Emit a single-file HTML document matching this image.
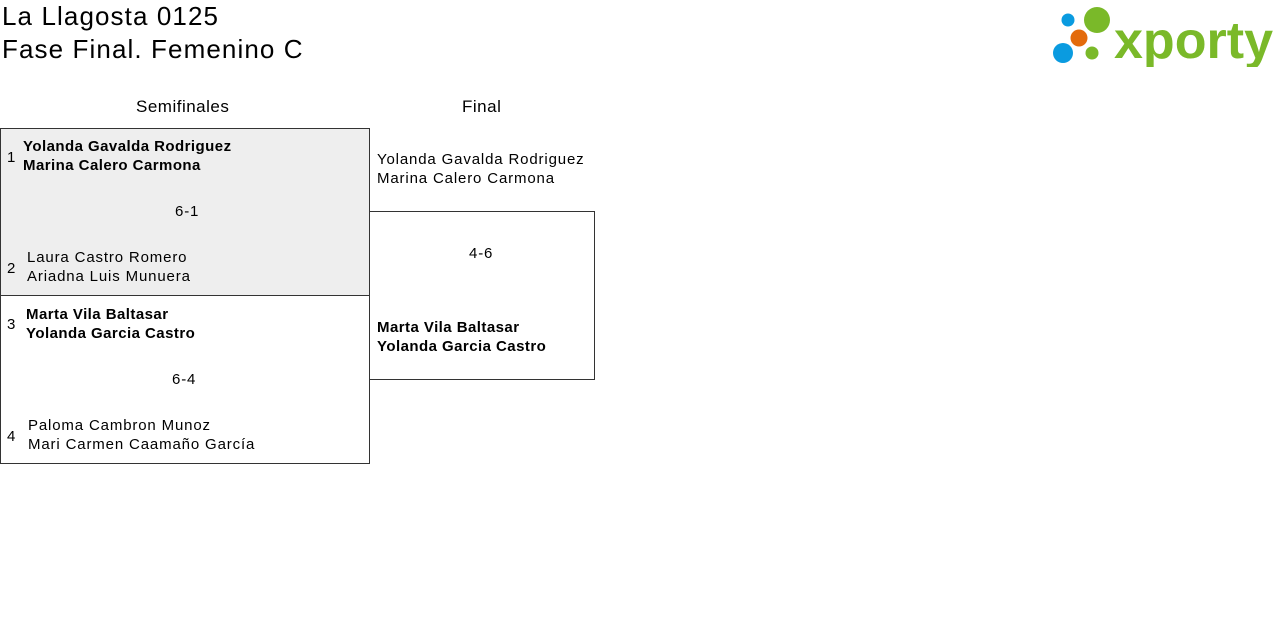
<!DOCTYPE html>
<html><head><meta charset="utf-8"><style>
body{margin:0;width:1280px;height:628px;background:#fff;position:relative;font-family:"Liberation Sans",sans-serif;color:#000;overflow:hidden}
.a{position:absolute;white-space:nowrap}
.t{font-size:26px;letter-spacing:1.1px}
.n{font-size:15px;line-height:19px;letter-spacing:0.85px}
.b{font-weight:bold;letter-spacing:0.45px}
.box{position:absolute;border:1px solid #333;box-sizing:border-box}
</style></head><body>
<div class="a t" style="left:2px;top:1px">La Llagosta 0125</div>
<div class="a t" style="left:2px;top:34px">Fase Final. Femenino C</div>
<svg class="a" style="left:1050px;top:3px" width="226" height="64" viewBox="0 0 226 64">
<circle cx="18" cy="17" r="6.5" fill="#0a9be0"/>
<circle cx="47" cy="17" r="13" fill="#7ab929"/>
<circle cx="29" cy="35" r="8.5" fill="#e36b0c"/>
<circle cx="13" cy="50" r="10" fill="#0a9be0"/>
<circle cx="42" cy="50" r="6.5" fill="#7ab929"/>
<text x="64" y="55" font-family="Liberation Sans" font-weight="bold" font-size="52" fill="#7ab929" textLength="159" lengthAdjust="spacingAndGlyphs">xporty</text>
</svg>
<div class="a n" style="left:136px;top:97px;font-size:17px;letter-spacing:0.5px">Semifinales</div>
<div class="a n" style="left:462px;top:97px;font-size:17px;letter-spacing:0.5px">Final</div>
<div class="box" style="left:0;top:128px;width:370px;height:168px;background:#eee"></div>
<div class="box" style="left:0;top:295px;width:370px;height:169px"></div>
<div class="box" style="left:369px;top:211px;width:226px;height:169px"></div>
<div class="a n" style="left:7px;top:148px">1</div>
<div class="a n b" style="left:23px;top:137px">Yolanda Gavalda Rodriguez<br>Marina Calero Carmona</div>
<div class="a n" style="left:175px;top:202px">6-1</div>
<div class="a n" style="left:7px;top:259px">2</div>
<div class="a n" style="left:27px;top:248px">Laura Castro Romero<br>Ariadna Luis Munuera</div>
<div class="a n" style="left:7px;top:315px">3</div>
<div class="a n b" style="left:26px;top:305px">Marta Vila Baltasar<br>Yolanda Garcia Castro</div>
<div class="a n" style="left:172px;top:370px">6-4</div>
<div class="a n" style="left:7px;top:427px">4</div>
<div class="a n" style="left:28px;top:416px">Paloma Cambron Munoz<br>Mari Carmen Caamaño García</div>
<div class="a n" style="left:377px;top:150px">Yolanda Gavalda Rodriguez<br>Marina Calero Carmona</div>
<div class="a n" style="left:469px;top:244px">4-6</div>
<div class="a n b" style="left:377px;top:318px">Marta Vila Baltasar<br>Yolanda Garcia Castro</div>
</body></html>
